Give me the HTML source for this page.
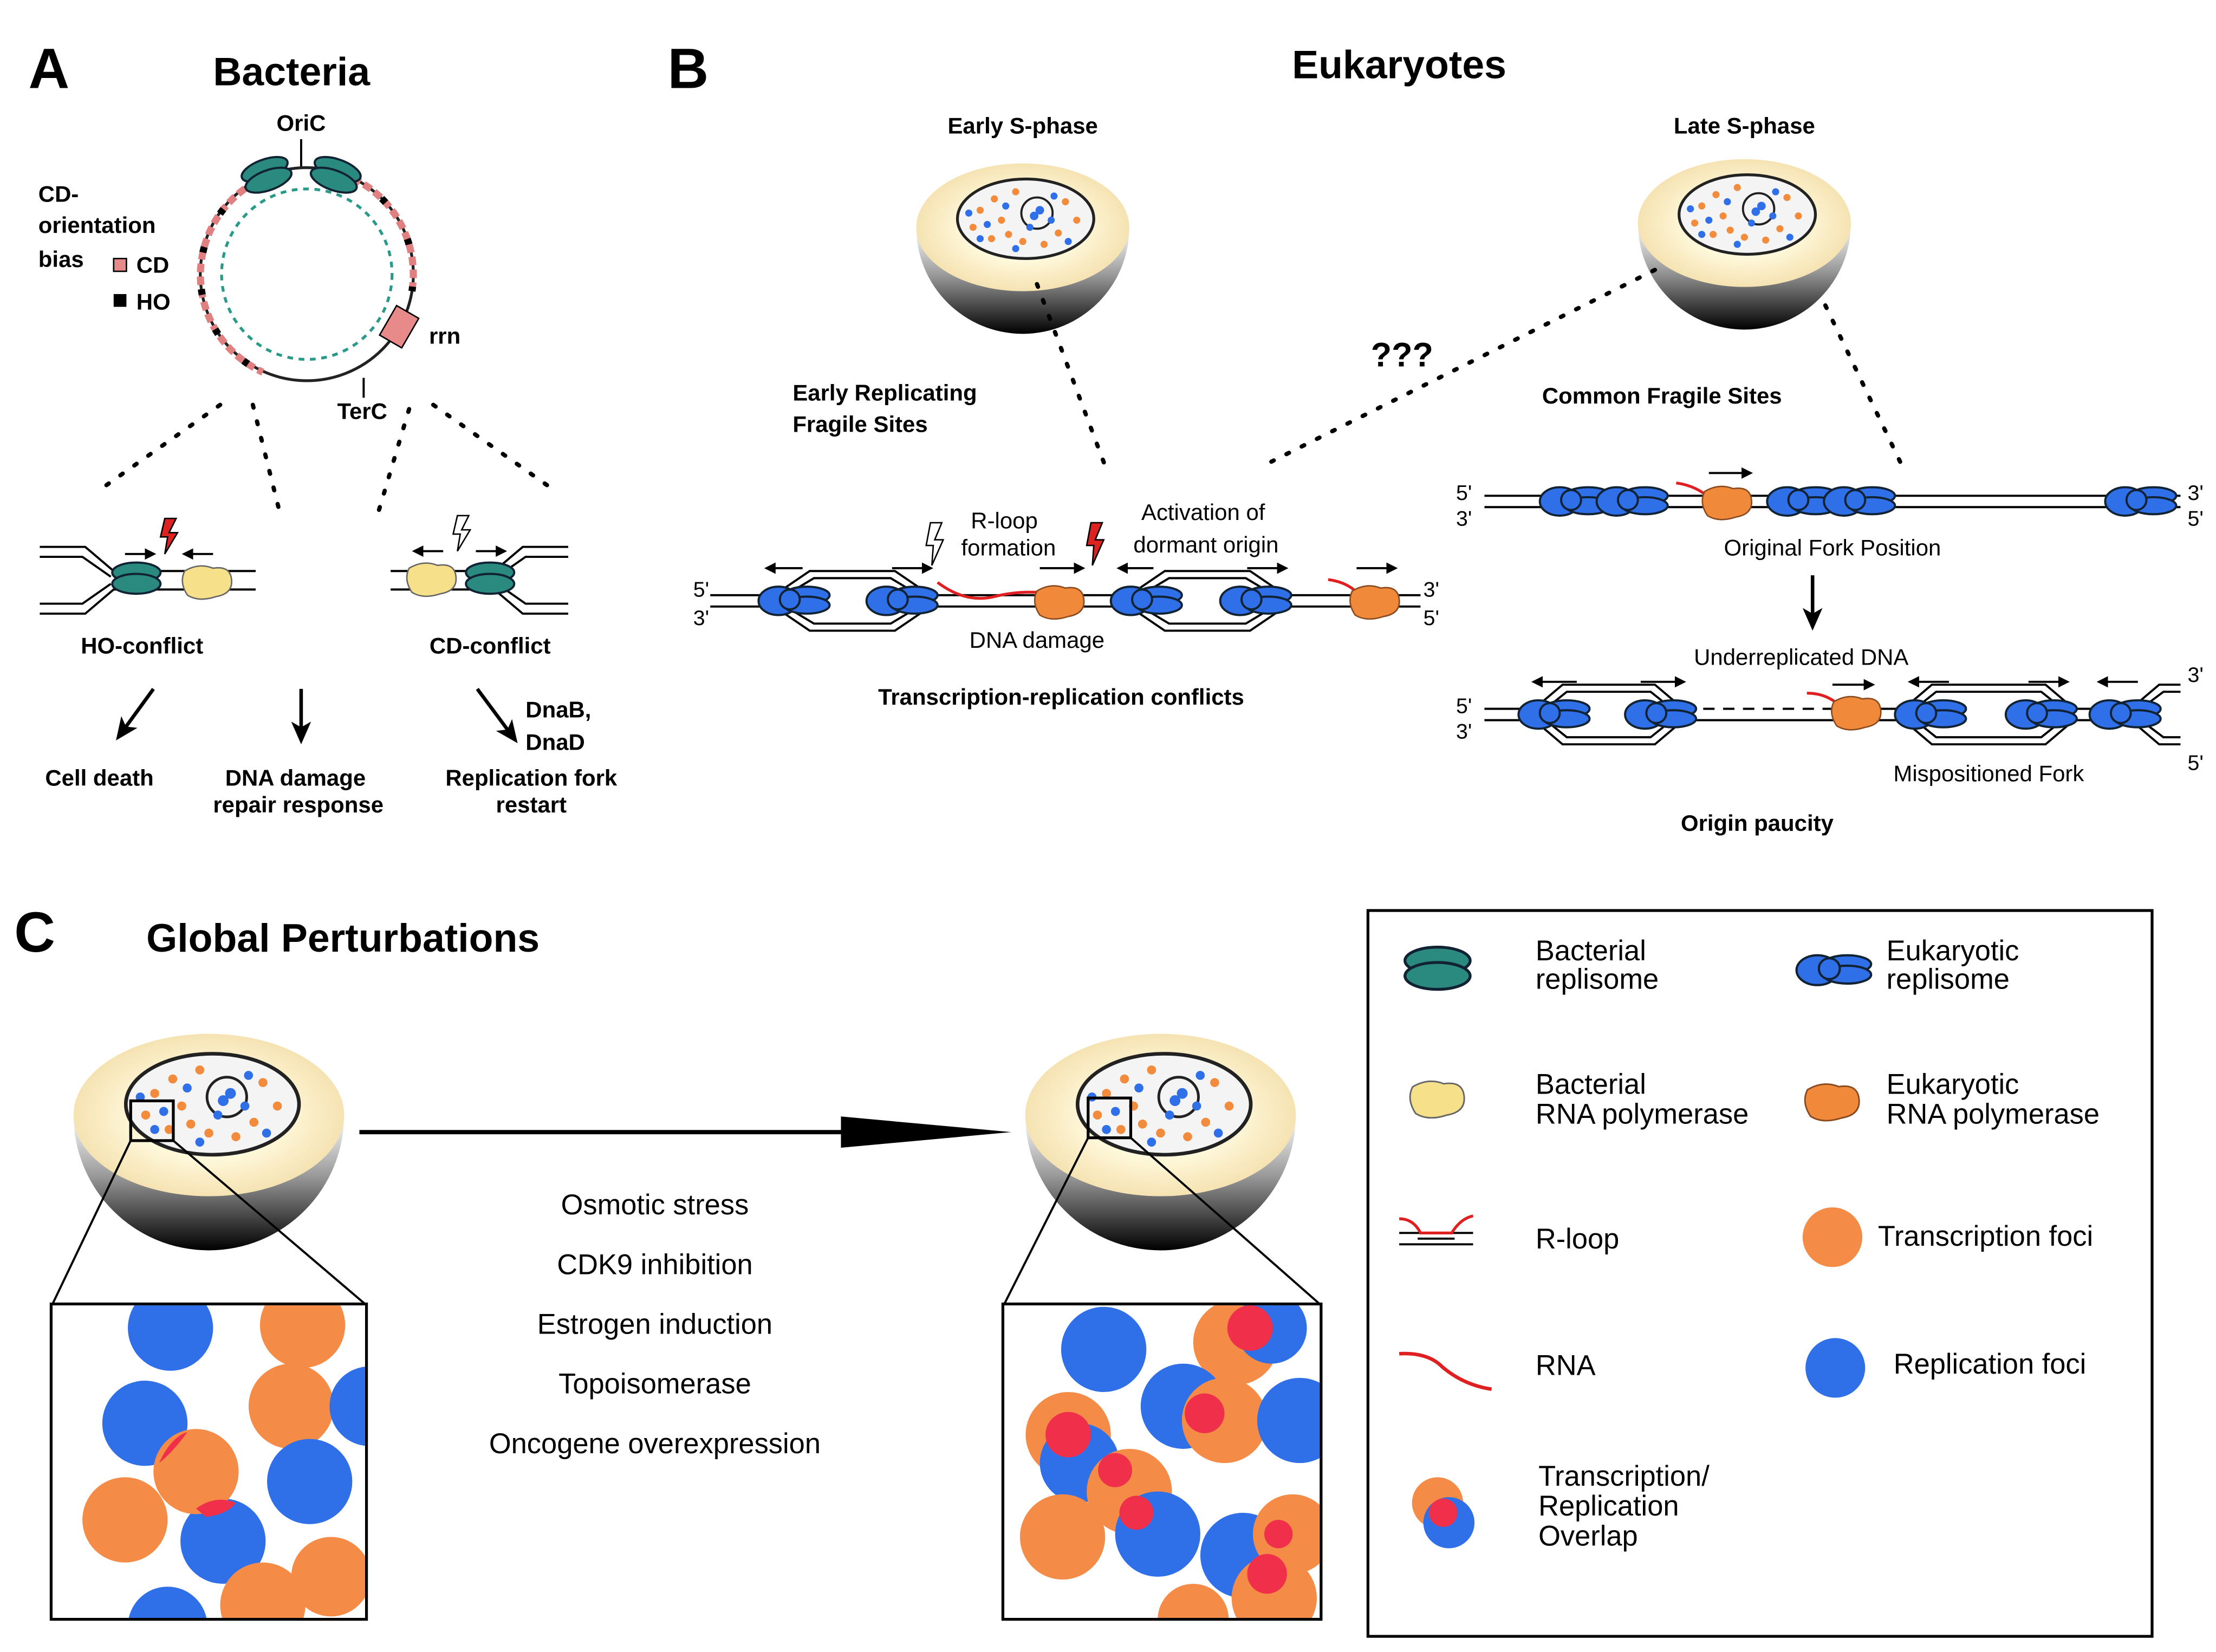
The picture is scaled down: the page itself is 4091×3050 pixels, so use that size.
<!DOCTYPE html>
<html><head><meta charset="utf-8"><style>
html,body{margin:0;padding:0;background:#fff}
svg{display:block}
text{font-family:"Liberation Sans",sans-serif}
.b{font-weight:bold}
</style></head><body>
<svg width="4091" height="3050" viewBox="0 0 1560 1163" xmlns="http://www.w3.org/2000/svg">
<defs>
<linearGradient id="hg" x1="0" y1="0" x2="0" y2="1">
<stop offset="0" stop-color="#fff"/><stop offset="0.45" stop-color="#999"/><stop offset="1" stop-color="#000"/></linearGradient>
<radialGradient id="cg" cx="0.5" cy="0.5" r="0.6"><stop offset="0.4" stop-color="#fffbe0"/><stop offset="1" stop-color="#f2d9a0"/></radialGradient>
<g id="brep"><ellipse cx="0" cy="-5" rx="17" ry="7" fill="#2a8a80" stroke="#123" stroke-width="1.5"/><ellipse cx="0" cy="3" rx="17" ry="7" fill="#2a8a80" stroke="#123" stroke-width="1.5"/></g>
<g id="erep"><ellipse cx="-12" cy="0" rx="14" ry="10" fill="#2f6fe8" stroke="#123" stroke-width="1.5"/><ellipse cx="8" cy="-4" rx="16" ry="6" fill="#2f6fe8" stroke="#123" stroke-width="1.5"/><ellipse cx="8" cy="3" rx="16" ry="6" fill="#2f6fe8" stroke="#123" stroke-width="1.5"/><circle cx="-4" cy="-1" r="7" fill="#2f6fe8" stroke="#123" stroke-width="1.5"/></g>
<g id="yrna"><path d="M-16,-8 Q-6,-14 4,-10 Q16,-12 17,-2 Q18,8 6,10 Q-6,14 -14,9 Q-20,0 -16,-8Z" fill="#f7e08a" stroke="#666" stroke-width="1"/></g>
<g id="orna"><path d="M-16,-8 Q-6,-14 4,-10 Q16,-12 17,-2 Q18,8 6,10 Q-6,14 -14,9 Q-20,0 -16,-8Z" fill="#f08a3a" stroke="#8a4a20" stroke-width="1"/></g>
<g id="hemi">
<path d="M-75,0 A75,75 0 0 0 75,0 Z" fill="url(#hg)"/>
<ellipse cx="0" cy="0" rx="75" ry="45" fill="url(#cg)"/>
<ellipse cx="2" cy="-6" rx="48" ry="28" fill="#f4f4f4" stroke="#222" stroke-width="2"/>
<circle cx="10" cy="-10" r="11" fill="none" stroke="#222" stroke-width="1.5"/>
<g fill="#f28c3c"><circle cx="-30" cy="-12" r="2.5"/><circle cx="-20" cy="-20" r="2.5"/><circle cx="-10" cy="5" r="2.5"/><circle cx="25" cy="4" r="2.5"/><circle cx="-35" cy="0" r="2.5"/><circle cx="30" cy="-18" r="2.5"/><circle cx="0" cy="10" r="2.5"/><circle cx="-22" cy="8" r="2.5"/><circle cx="15" cy="12" r="2.5"/><circle cx="38" cy="-5" r="2.5"/><circle cx="-5" cy="-25" r="2.5"/><circle cx="-15" cy="-5" r="2.5"/></g>
<g fill="#2f6fe8"><circle cx="-25" cy="-2" r="2.5"/><circle cx="-12" cy="-15" r="2.5"/><circle cx="5" cy="0" r="2.5"/><circle cx="20" cy="-5" r="2.5"/><circle cx="-30" cy="8" r="2.5"/><circle cx="12" cy="-12" r="3"/><circle cx="8" cy="-8" r="3"/><circle cx="32" cy="10" r="2.5"/><circle cx="-5" cy="15" r="2.5"/><circle cx="-38" cy="-10" r="2.5"/><circle cx="22" cy="-22" r="2.5"/></g>
</g>
<marker id="ah" markerWidth="8" markerHeight="8" refX="6" refY="4" orient="auto" markerUnits="userSpaceOnUse"><path d="M0,0 L8,4 L0,8Z" fill="#000"/></marker>
<marker id="ah2" markerWidth="16" markerHeight="14" refX="12" refY="7" orient="auto" markerUnits="userSpaceOnUse"><path d="M0,0 L16,7 L0,14 L4,7Z" fill="#000"/></marker>
<clipPath id="c1"><rect x="37" y="919" width="220" height="220"/></clipPath>
<clipPath id="c2"><rect x="707" y="919" width="222" height="220"/></clipPath>
</defs>

<!-- Panel A -->
<text x="20" y="62" font-size="40" class="b">A</text>
<text x="150" y="60" font-size="28" class="b">Bacteria</text>
<text x="212" y="92" font-size="16" class="b" text-anchor="middle">OriC</text>
<line x1="212" y1="98" x2="212" y2="118" stroke="#000" stroke-width="1.5"/>
<circle cx="216" cy="193" r="75" fill="none" stroke="#222" stroke-width="2"/>
<path d="M240,122 A75,75 0 0 1 290,205" fill="none" stroke="#e08080" stroke-width="5" stroke-dasharray="6,3"/>
<path d="M180,128 A75,75 0 0 0 185,262" fill="none" stroke="#e08080" stroke-width="5" stroke-dasharray="6,3"/>
<path d="M240,122 A75,75 0 0 1 290,205" fill="none" stroke="#000" stroke-width="5" stroke-dasharray="4,30"/>
<path d="M180,128 A75,75 0 0 0 185,262" fill="none" stroke="#000" stroke-width="5" stroke-dasharray="4,26"/>
<circle cx="216" cy="193" r="60" fill="none" stroke="#2a9a88" stroke-width="2" stroke-dasharray="4,4"/>
<use href="#brep" x="188" y="124" transform="rotate(-20 188 124)"/>
<use href="#brep" x="236" y="124" transform="rotate(20 236 124)"/>
<rect x="272" y="218" width="18" height="24" fill="#e88a8a" stroke="#000" transform="rotate(30 281 230)"/>
<text x="302" y="242" font-size="16" class="b">rrn</text>
<text x="255" y="295" font-size="16" class="b" text-anchor="middle">TerC</text>
<line x1="256" y1="266" x2="256" y2="280" stroke="#000" stroke-width="1.5"/>
<text x="27" y="142" font-size="16" class="b">CD-</text>
<text x="27" y="164" font-size="16" class="b">orientation</text>
<text x="27" y="188" font-size="16" class="b">bias</text>
<rect x="80" y="182" width="9" height="9" fill="#e88a8a" stroke="#000"/><text x="96" y="192" font-size="16" class="b">CD</text>
<rect x="80" y="207" width="9" height="9" fill="#000"/><text x="96" y="218" font-size="16" class="b">HO</text>
<g stroke="#000" stroke-width="3" stroke-dasharray="2,10" stroke-linecap="round">
<line x1="155" y1="285" x2="70" y2="345"/><line x1="178" y1="285" x2="198" y2="365"/><line x1="288" y1="288" x2="265" y2="365"/><line x1="305" y1="285" x2="390" y2="345"/>
</g>
<g stroke="#000" stroke-width="1.5" fill="none">
<path d="M28,385 L60,385 L80,402 L180,402"/><path d="M28,392 L58,392 L78,406"/>
<path d="M28,432 L60,432 L80,415 L180,415"/><path d="M28,425 L58,425 L78,411"/>
<path d="M400,385 L368,385 L348,402 L275,402"/><path d="M400,392 L370,392 L350,406"/>
<path d="M400,432 L368,432 L348,415 L275,415"/><path d="M400,425 L370,425 L350,411"/>
</g>
<use href="#brep" x="96" y="408"/><use href="#yrna" x="146" y="410"/>
<use href="#yrna" x="304" y="408"/><use href="#brep" x="345" y="408"/>
<line x1="88" y1="390" x2="108" y2="390" stroke="#000" stroke-width="1.5" marker-end="url(#ah)"/>
<line x1="150" y1="390" x2="130" y2="390" stroke="#000" stroke-width="1.5" marker-end="url(#ah)"/>
<line x1="312" y1="388" x2="292" y2="388" stroke="#000" stroke-width="1.5" marker-end="url(#ah)"/>
<line x1="335" y1="388" x2="355" y2="388" stroke="#000" stroke-width="1.5" marker-end="url(#ah)"/>
<path d="M116,365 L124,365 L119,375 L125,375 L116,390 L118,378 L113,378Z" fill="#d22" stroke="#000"/>
<path d="M322,363 L330,363 L325,373 L331,373 L322,388 L324,376 L319,376Z" fill="#fff" stroke="#000"/>
<text x="100" y="460" font-size="16" class="b" text-anchor="middle">HO-conflict</text>
<text x="345" y="460" font-size="16" class="b" text-anchor="middle">CD-conflict</text>
<g stroke="#000" stroke-width="2.5">
<line x1="108" y1="485" x2="84" y2="518" marker-end="url(#ah2)"/><line x1="212" y1="485" x2="212" y2="520" marker-end="url(#ah2)"/><line x1="336" y1="485" x2="362" y2="520" marker-end="url(#ah2)"/>
</g>
<text x="370" y="505" font-size="16" class="b">DnaB,</text><text x="370" y="528" font-size="16" class="b">DnaD</text>
<text x="70" y="553" font-size="16" class="b" text-anchor="middle">Cell death</text>
<text x="208" y="553" font-size="16" class="b" text-anchor="middle">DNA damage</text>
<text x="210" y="572" font-size="16" class="b" text-anchor="middle">repair response</text>
<text x="374" y="553" font-size="16" class="b" text-anchor="middle">Replication fork</text>
<text x="374" y="572" font-size="16" class="b" text-anchor="middle">restart</text>

<!-- Panel B -->
<text x="470" y="62" font-size="40" class="b">B</text>
<text x="985" y="55" font-size="28" class="b" text-anchor="middle">Eukaryotes</text>
<text x="720" y="94" font-size="16" class="b" text-anchor="middle">Early S-phase</text>
<text x="1228" y="94" font-size="16" class="b" text-anchor="middle">Late S-phase</text>
<use href="#hemi" x="720" y="160"/>
<use href="#hemi" x="1228" y="157"/>
<g stroke="#000" stroke-width="3" stroke-dasharray="2,10" stroke-linecap="round">
<line x1="730" y1="200" x2="778" y2="328"/><line x1="1165" y1="190" x2="895" y2="325"/><line x1="1285" y1="215" x2="1340" y2="330"/>
</g>
<text x="987" y="258" font-size="24" class="b" text-anchor="middle">???</text>
<text x="558" y="282" font-size="16" class="b">Early Replicating</text>
<text x="558" y="304" font-size="16" class="b">Fragile Sites</text>
<text x="1170" y="284" font-size="16" class="b" text-anchor="middle">Common Fragile Sites</text>
<g stroke="#000" stroke-width="1.5" fill="none">
<line x1="500" y1="419" x2="545" y2="419"/><line x1="500" y1="427" x2="545" y2="427"/>
<path d="M545,419 L570,402 L630,402 L655,419 M545,427 L570,444 L630,444 L655,427"/>
<path d="M553,419 L573,407 L627,407 L647,419 M553,427 L573,439 L627,439 L647,427"/>
<line x1="655" y1="419" x2="795" y2="419"/><line x1="655" y1="427" x2="795" y2="427"/>
<path d="M795,419 L820,402 L880,402 L905,419 M795,427 L820,444 L880,444 L905,427"/>
<path d="M803,419 L823,407 L877,407 L897,419 M803,427 L823,439 L877,439 L897,427"/>
<line x1="905" y1="419" x2="1000" y2="419"/><line x1="905" y1="427" x2="1000" y2="427"/>
</g>
<text x="488" y="420" font-size="15">5'</text><text x="488" y="440" font-size="15">3'</text>
<text x="1002" y="420" font-size="15">3'</text><text x="1002" y="440" font-size="15">5'</text>
<path d="M660,410 Q680,425 700,420 T740,418" fill="none" stroke="#e02020" stroke-width="2"/>
<path d="M935,408 Q950,410 958,420" fill="none" stroke="#e02020" stroke-width="2"/>
<use href="#erep" x="560" y="423"/><use href="#erep" x="636" y="423"/>
<use href="#erep" x="808" y="423"/><use href="#erep" x="885" y="423"/>
<use href="#orna" x="746" y="424"/><use href="#orna" x="968" y="424"/>
<g stroke="#000" stroke-width="1.5">
<line x1="565" y1="400" x2="540" y2="400" marker-end="url(#ah)"/><line x1="628" y1="400" x2="655" y2="400" marker-end="url(#ah)"/>
<line x1="732" y1="400" x2="762" y2="400" marker-end="url(#ah)"/><line x1="812" y1="400" x2="788" y2="400" marker-end="url(#ah)"/>
<line x1="878" y1="400" x2="905" y2="400" marker-end="url(#ah)"/><line x1="955" y1="400" x2="982" y2="400" marker-end="url(#ah)"/>
</g>
<path d="M655,368 L663,368 L658,380 L664,380 L656,398 L657,384 L652,384Z" fill="#fff" stroke="#000"/>
<path d="M768,368 L776,368 L771,380 L777,380 L769,398 L770,384 L765,384Z" fill="#d22" stroke="#000"/>
<text x="707" y="372" font-size="16" text-anchor="middle">R-loop</text>
<text x="710" y="391" font-size="16" text-anchor="middle">formation</text>
<text x="847" y="366" font-size="16" text-anchor="middle">Activation of</text>
<text x="849" y="389" font-size="16" text-anchor="middle">dormant origin</text>
<text x="730" y="456" font-size="16" text-anchor="middle">DNA damage</text>
<text x="747" y="496" font-size="16" class="b" text-anchor="middle">Transcription-replication conflicts</text>
<g stroke="#000" stroke-width="1.5">
<line x1="1045" y1="349" x2="1535" y2="349"/><line x1="1045" y1="357" x2="1535" y2="357"/>
</g>
<text x="1025" y="352" font-size="15">5'</text><text x="1025" y="370" font-size="15">3'</text>
<text x="1540" y="352" font-size="15">3'</text><text x="1540" y="370" font-size="15">5'</text>
<use href="#erep" x="1110" y="353"/><use href="#erep" x="1150" y="353"/>
<use href="#erep" x="1270" y="353"/><use href="#erep" x="1310" y="353"/>
<use href="#erep" x="1508" y="353"/>
<path d="M1180,340 Q1195,342 1205,352" fill="none" stroke="#e02020" stroke-width="2"/>
<use href="#orna" x="1216" y="354"/>
<line x1="1203" y1="333" x2="1232" y2="333" stroke="#000" stroke-width="1.5" marker-end="url(#ah)"/>
<text x="1290" y="391" font-size="16" text-anchor="middle">Original Fork Position</text>
<line x1="1276" y1="405" x2="1276" y2="440" stroke="#000" stroke-width="2.5" marker-end="url(#ah2)"/>
<text x="1268" y="468" font-size="16" text-anchor="middle">Underreplicated DNA</text>
<g stroke="#000" stroke-width="1.5" fill="none">
<line x1="1045" y1="499" x2="1080" y2="499"/><line x1="1045" y1="507" x2="1080" y2="507"/>
<path d="M1080,499 L1100,482 L1165,482 L1185,499 M1080,507 L1100,524 L1165,524 L1185,507"/>
<path d="M1088,499 L1103,487 L1162,487 L1177,499 M1088,507 L1103,519 L1162,519 L1177,507"/>
<line x1="1185" y1="507" x2="1340" y2="507"/>
<line x1="1185" y1="499" x2="1290" y2="499" stroke-dasharray="8,6"/><line x1="1290" y1="499" x2="1340" y2="499"/>
<path d="M1340,499 L1360,482 L1440,482 L1460,499 M1340,507 L1360,524 L1440,524 L1460,507"/>
<path d="M1348,499 L1363,487 L1437,487 L1452,499 M1348,507 L1363,519 L1437,519 L1452,507"/>
<line x1="1460" y1="499" x2="1500" y2="499"/><line x1="1460" y1="507" x2="1500" y2="507"/>
<path d="M1500,499 L1520,482 L1535,482 M1500,507 L1520,524 L1535,524"/>
<path d="M1507,499 L1523,487 L1535,487 M1507,507 L1523,519 L1535,519"/>
</g>
<text x="1025" y="502" font-size="15">5'</text><text x="1025" y="520" font-size="15">3'</text>
<text x="1540" y="480" font-size="15">3'</text><text x="1540" y="542" font-size="15">5'</text>
<use href="#erep" x="1095" y="503"/><use href="#erep" x="1170" y="503"/>
<use href="#erep" x="1360" y="503"/><use href="#erep" x="1438" y="503"/><use href="#erep" x="1497" y="503"/>
<path d="M1272,488 Q1288,488 1298,500" fill="none" stroke="#e02020" stroke-width="2"/>
<use href="#orna" x="1307" y="502"/>
<g stroke="#000" stroke-width="1.5">
<line x1="1110" y1="480" x2="1080" y2="480" marker-end="url(#ah)"/><line x1="1155" y1="480" x2="1185" y2="480" marker-end="url(#ah)"/>
<line x1="1290" y1="482" x2="1318" y2="482" marker-end="url(#ah)"/><line x1="1372" y1="480" x2="1345" y2="480" marker-end="url(#ah)"/>
<line x1="1428" y1="480" x2="1455" y2="480" marker-end="url(#ah)"/><line x1="1505" y1="480" x2="1478" y2="480" marker-end="url(#ah)"/>
</g>
<text x="1400" y="550" font-size="16" text-anchor="middle">Mispositioned Fork</text>
<text x="1237" y="585" font-size="16" class="b" text-anchor="middle">Origin paucity</text>

<!-- Panel C -->
<text x="10" y="670" font-size="40" class="b">C</text>
<text x="103" y="670" font-size="28" class="b">Global Perturbations</text>
<g transform="translate(147,785) scale(1.27)"><use href="#hemi"/></g>
<g transform="translate(817,785) scale(1.27)"><use href="#hemi"/></g>
<rect x="92" y="775" width="30" height="28" fill="none" stroke="#000" stroke-width="2"/>
<rect x="766" y="773" width="30" height="28" fill="none" stroke="#000" stroke-width="2"/>
<line x1="92" y1="803" x2="37" y2="918" stroke="#000" stroke-width="1.5"/><line x1="122" y1="803" x2="257" y2="918" stroke="#000" stroke-width="1.5"/>
<line x1="766" y1="801" x2="707" y2="918" stroke="#000" stroke-width="1.5"/><line x1="796" y1="801" x2="929" y2="918" stroke="#000" stroke-width="1.5"/>
<rect x="36" y="918" width="222" height="222" fill="#fff" stroke="#000" stroke-width="2"/>
<rect x="706" y="918" width="224" height="222" fill="#fff" stroke="#000" stroke-width="2"/>
<g clip-path="url(#c1)">
<circle cx="120" cy="935" r="30" fill="#2f6fe8"/><circle cx="213" cy="933" r="30" fill="#f48c48"/>
<circle cx="102" cy="1002" r="30" fill="#2f6fe8"/><circle cx="205" cy="990" r="30" fill="#f48c48"/>
<circle cx="260" cy="990" r="28" fill="#2f6fe8"/><circle cx="88" cy="1070" r="30" fill="#f48c48"/>
<circle cx="218" cy="1043" r="30" fill="#2f6fe8"/><circle cx="157" cy="1085" r="30" fill="#2f6fe8"/>
<circle cx="138" cy="1036" r="30" fill="#f48c48"/>
<circle cx="233" cy="1110" r="28" fill="#f48c48"/><circle cx="185" cy="1130" r="30" fill="#f48c48"/>
<circle cx="118" cy="1145" r="28" fill="#2f6fe8"/>
<path d="M112,1030 Q120,1012 132,1008 Q122,1022 112,1030Z" fill="#f0304a"/>
<path d="M138,1062 Q152,1052 166,1058 Q160,1066 145,1068Z" fill="#f0304a"/>
</g>
<g clip-path="url(#c2)">
<circle cx="777" cy="950" r="30" fill="#2f6fe8"/><circle cx="870" cy="945" r="30" fill="#f48c48"/>
<circle cx="895" cy="935" r="25" fill="#2f6fe8"/><circle cx="833" cy="990" r="30" fill="#2f6fe8"/>
<circle cx="862" cy="1000" r="30" fill="#f48c48"/><circle cx="915" cy="1000" r="30" fill="#2f6fe8"/>
<circle cx="752" cy="1010" r="30" fill="#f48c48"/><circle cx="760" cy="1030" r="28" fill="#2f6fe8"/>
<circle cx="795" cy="1050" r="30" fill="#f48c48"/><circle cx="815" cy="1080" r="30" fill="#2f6fe8"/>
<circle cx="748" cy="1082" r="30" fill="#f48c48"/><circle cx="875" cy="1095" r="30" fill="#2f6fe8"/>
<circle cx="910" cy="1080" r="28" fill="#f48c48"/><circle cx="897" cy="1125" r="30" fill="#f48c48"/>
<circle cx="840" cy="1140" r="25" fill="#f48c48"/>
<circle cx="880" cy="935" r="16" fill="#f0304a"/><circle cx="848" cy="995" r="14" fill="#f0304a"/>
<circle cx="752" cy="1010" r="16" fill="#f0304a"/><circle cx="785" cy="1035" r="12" fill="#f0304a"/>
<circle cx="800" cy="1065" r="12" fill="#f0304a"/><circle cx="892" cy="1108" r="14" fill="#f0304a"/>
<circle cx="900" cy="1080" r="10" fill="#f0304a"/>
</g>
<line x1="253" y1="797" x2="595" y2="797" stroke="#000" stroke-width="3"/>
<path d="M592,786 L712,797 L592,808Z" fill="#000"/>
<g font-size="20" text-anchor="middle">
<text x="461" y="855">Osmotic stress</text><text x="461" y="897">CDK9 inhibition</text>
<text x="461" y="939">Estrogen induction</text><text x="461" y="981">Topoisomerase</text>
<text x="461" y="1023">Oncogene overexpression</text>
</g>
<!-- Legend -->
<rect x="963" y="641" width="552" height="511" fill="none" stroke="#000" stroke-width="2"/>
<g transform="translate(1012,683) scale(1.35)"><use href="#brep"/></g>
<g transform="translate(1292,683) scale(1.05)"><use href="#erep"/></g>
<g transform="translate(1012,774) scale(1.1)"><use href="#yrna"/></g>
<g transform="translate(1290,776) scale(1.1)"><use href="#orna"/></g>
<g stroke="#000" stroke-width="1.5" fill="none"><line x1="985" y1="868" x2="1037" y2="868"/><line x1="985" y1="876" x2="1037" y2="876"/><line x1="998" y1="872" x2="1024" y2="872"/></g>
<path d="M985,858 Q995,858 1000,868 L1022,868 Q1028,858 1037,856" fill="none" stroke="#e02020" stroke-width="2"/>
<path d="M985,953 Q1005,952 1015,962 Q1030,975 1050,978" fill="none" stroke="#e02020" stroke-width="2.5"/>
<circle cx="1290" cy="871" r="21" fill="#f48c48"/>
<circle cx="1292" cy="963" r="21" fill="#2f6fe8"/>
<circle cx="1012" cy="1058" r="18" fill="#f48c48"/><circle cx="1020" cy="1072" r="18" fill="#2f6fe8"/>
<circle cx="1016" cy="1065" r="10" fill="#f0304a"/>
<g font-size="20">
<text x="1081" y="676">Bacterial</text><text x="1081" y="696">replisome</text>
<text x="1328" y="676">Eukaryotic</text><text x="1328" y="696">replisome</text>
<text x="1081" y="770">Bacterial</text><text x="1081" y="791">RNA polymerase</text>
<text x="1328" y="770">Eukaryotic</text><text x="1328" y="791">RNA polymerase</text>
<text x="1081" y="879">R-loop</text><text x="1322" y="877">Transcription foci</text>
<text x="1081" y="968">RNA</text><text x="1333" y="967">Replication foci</text>
<text x="1083" y="1046">Transcription/</text><text x="1083" y="1067">Replication</text><text x="1083" y="1088">Overlap</text>
</g>
</svg>
</body></html>
